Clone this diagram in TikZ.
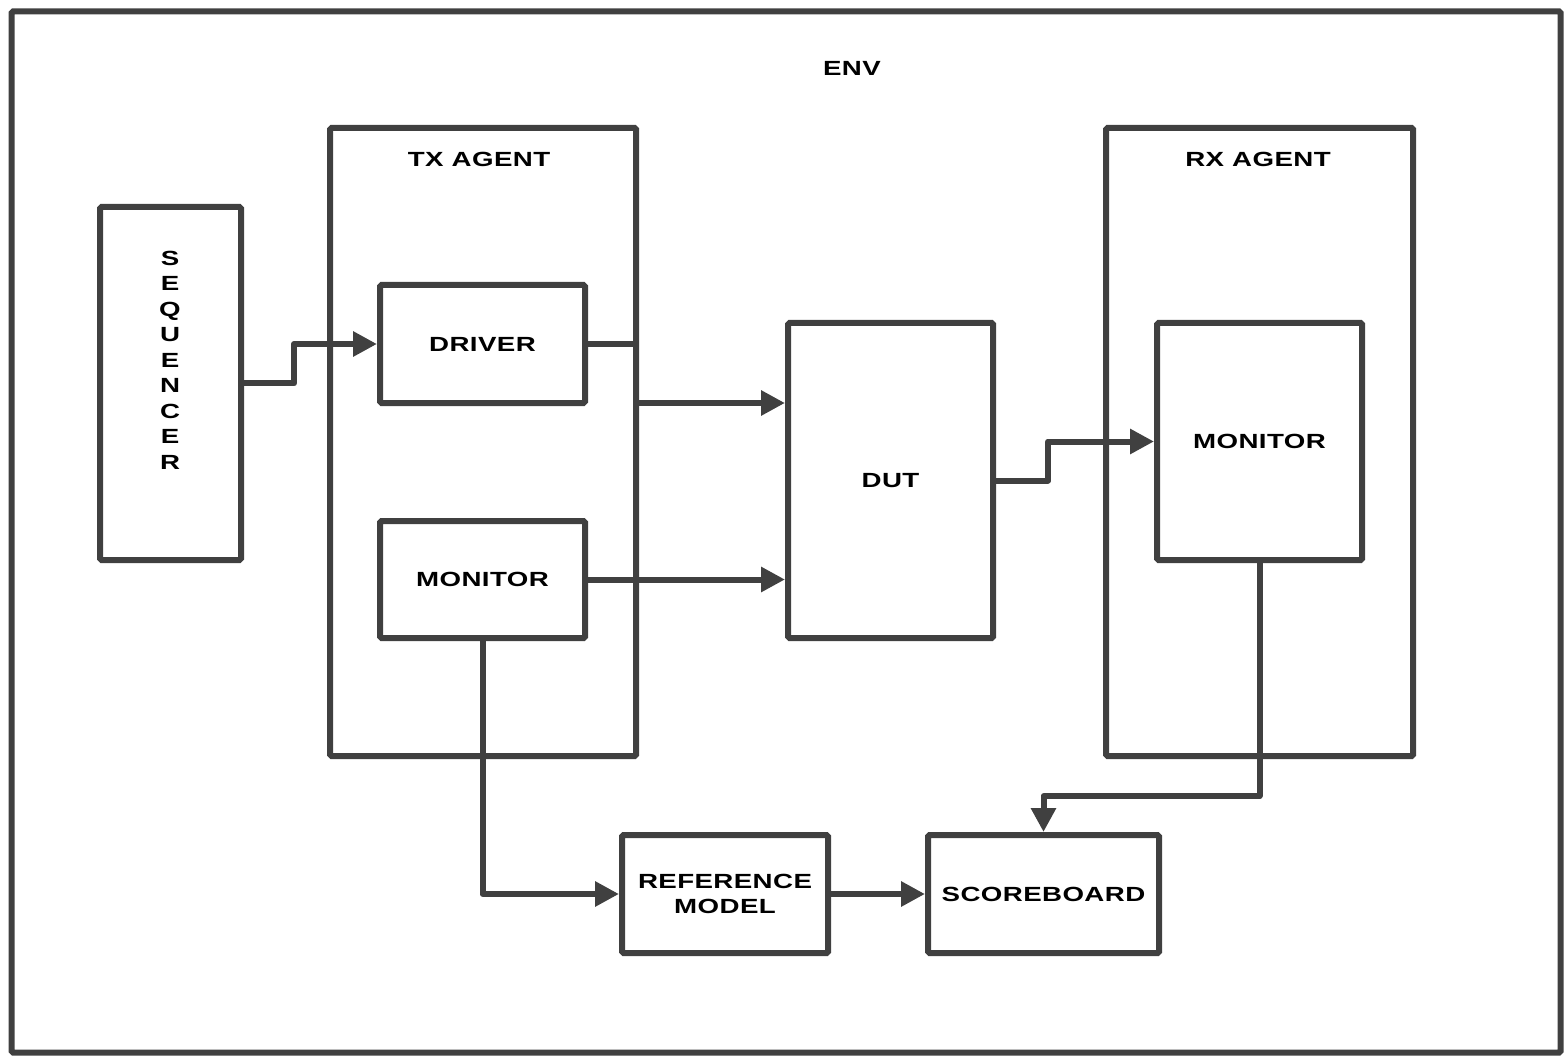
\documentclass[tikz,border=0pt]{standalone}
\usepackage{fontspec}
\setmainfont{Liberation Sans}[FakeStretch=1.35, LetterSpace=2]
\usetikzlibrary{arrows.meta}
\definecolor{ink}{HTML}{404040}
\tikzset{
  blk/.style={draw=ink, line width=6pt, rounded corners=1.5pt, fill=none,
    inner sep=0pt, text=black,
    font=\fontsize{20.5}{25}\selectfont\bfseries},
  lbl/.style={text=black, inner sep=0pt, font=\fontsize{20.5}{25}\selectfont\bfseries},
  wire/.style={draw=ink, line width=6pt, line join=round},
  arr/.style={wire, -{Triangle[length=24pt,width=24pt]}},
}
\begin{document}
\begin{tikzpicture}[x=1pt,y=-1pt]
\useasboundingbox (0,0) rectangle (1567,1059);
% outer environment frame
\node[blk, minimum width=1549pt, minimum height=1041pt] (env) at (786,532) {};
\node[lbl] (envlbl) at (852,68) {ENV};
% sequencer with its vertical label
\node[blk, minimum width=141pt, minimum height=353pt] (seq) at (170.5,383.5) {};
\node[lbl, align=center, font=\fontsize{20.5}{25.5}\selectfont\bfseries]
      (seqlbl) at (170,360) {S\\E\\Q\\U\\E\\N\\C\\E\\R};
% agents
\node[blk, minimum width=306pt, minimum height=628pt] (tx) at (483,442) {};
\node[lbl] (txlbl) at (479,159) {TX AGENT};
\node[blk, minimum width=307pt, minimum height=628pt] (rx) at (1259.5,442) {};
\node[lbl] (rxlbl) at (1258,159) {RX AGENT};
% inner blocks
\node[blk, minimum width=205pt, minimum height=118pt] (drv) at (482.5,344) {DRIVER};
\node[blk, minimum width=205pt, minimum height=117pt] (txmon) at (482.5,579.5) {MONITOR};
\node[blk, minimum width=205pt, minimum height=315pt] (dut) at (890.5,480.5) {DUT};
\node[blk, minimum width=205pt, minimum height=237pt] (rxmon) at (1259.5,441.5) {MONITOR};
\node[blk, minimum width=206pt, minimum height=118pt, align=center,
      font=\fontsize{20.5}{25}\selectfont\bfseries] (ref) at (725,894) {REFERENCE\\MODEL};
\node[blk, minimum width=231pt, minimum height=118pt] (sb) at (1043.5,894) {SCOREBOARD};
% connectors
\coordinate (dutin) at (dut.west |- 0,403);
\draw[arr] (seq.east) -- ++(50,0) |- (drv.west);
\draw[wire] (drv.east) -- (drv.east -| tx.east);
\draw[arr] (tx.east |- dutin) -- (dutin);
\draw[arr] (txmon.east) -- (txmon.east -| dut.west);
\draw[arr] (dut.east) -- ++(52,0) |- (rxmon.west);
\draw[arr] (rxmon.south) -- ++(0,233) -| (sb.north);
\draw[arr] (txmon.south) |- (ref.west);
\draw[arr] (ref.east) -- (sb.west);
\end{tikzpicture}
\end{document}
